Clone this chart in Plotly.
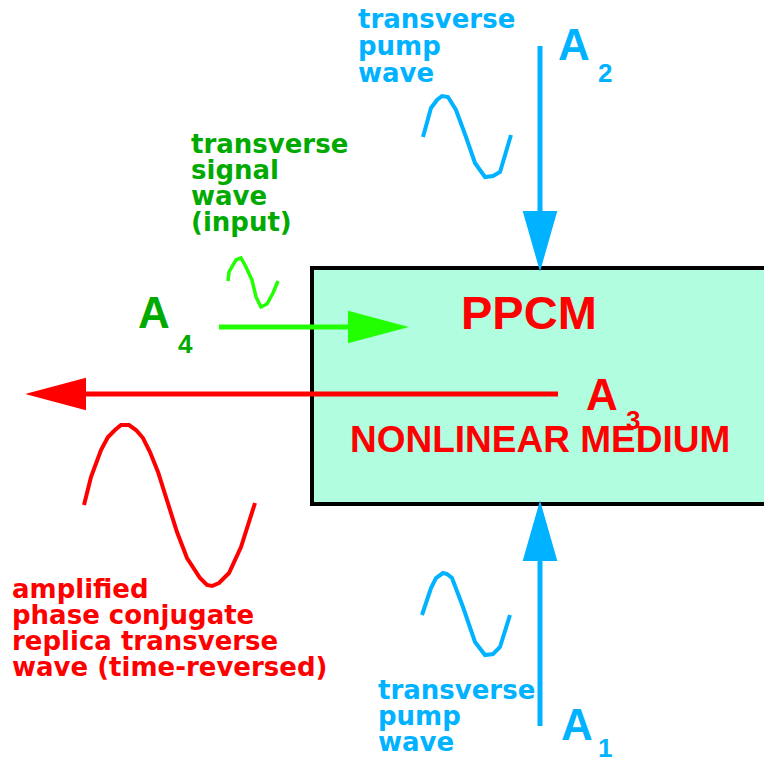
import plotly.graph_objects as go

W, H = 772, 760
PAGE_MARGIN = 8  # browser body margin offset

# ---- colours ----
BLUE = "#00b2ff"
GREEN_TXT = "#00aa00"
GREEN = "#22ff00"
RED = "#ff0000"
BOX_FILL = "#b0fde0"

# ---- wave sketches ----
pump_top_x = [423, 431, 437, 442, 448, 456, 466, 475, 485, 493, 500, 507, 511]
pump_top_y = [137, 108, 100, 96, 97, 110, 137, 163, 177, 176, 172, 147, 135]

pump_bot_x = [422, 431, 436, 443, 447, 452, 463, 475, 485, 493, 500, 505, 510]
pump_bot_y = [615, 588, 578, 573, 574, 578, 607, 642, 655, 654, 647, 632, 615]

signal_x = [228, 229, 233, 236, 241, 246, 252, 256, 261, 267, 273, 278]
signal_y = [281, 272, 265, 260, 258, 267, 280, 297, 307, 304, 293, 281]

conj_x = [84, 91, 101, 108, 115, 121, 129, 136, 143, 150, 158, 170, 177, 187, 200, 207, 212, 219, 229, 241, 249, 255]
conj_y = [505, 477, 450, 437, 430, 425, 425, 430, 438, 452, 472, 508, 532, 558, 578, 585, 586, 583, 573, 547, 523, 503]

# ---- arrows: tail, tip, head length, head half width ----
arrow_names = ["A2 pump", "A1 pump", "A4 signal", "A3 conjugate"]
arrow_tail = [(540, 46), (540, 726), (219, 327), (558, 394)]
arrow_tip = [(540, 268), (540, 504), (405, 327), (29, 394)]
arrow_head_len = [56, 56, 56, 56]
arrow_head_half = [16, 16, 15, 15]
arrow_color = [BLUE, BLUE, GREEN, RED]
arrow_width = [5, 5, 5, 5]

# ---- medium box ----
box_x = [312, 790]
box_y = [268, 504]

fig = go.Figure()

for xs, ys, col, w in [
    (pump_top_x, pump_top_y, BLUE, 4),
    (pump_bot_x, pump_bot_y, BLUE, 4),
    (signal_x, signal_y, GREEN, 3.5),
    (conj_x, conj_y, RED, 4),
]:
    fig.add_trace(go.Scatter(x=xs, y=ys, mode="lines",
                             line=dict(color=col, width=w),
                             hoverinfo="skip", showlegend=False))

shapes = [dict(type="rect", x0=box_x[0], x1=box_x[1], y0=box_y[0], y1=box_y[1],
               fillcolor=BOX_FILL, line=dict(color="black", width=4), layer="below")]

for (tx, ty), (hx, hy), L, hw, col, lw in zip(arrow_tail, arrow_tip, arrow_head_len,
                                              arrow_head_half, arrow_color, arrow_width):
    dx, dy = hx - tx, hy - ty
    n = (dx * dx + dy * dy) ** 0.5
    ux, uy = dx / n, dy / n
    bx, by = hx - ux * L, hy - uy * L
    px, py = -uy, ux
    shapes.append(dict(type="line", x0=tx, y0=ty, x1=bx, y1=by,
                       line=dict(color=col, width=lw)))
    path = (f"M {hx},{hy} L {bx + px * hw},{by + py * hw} "
            f"L {bx - px * hw},{by - py * hw} Z")
    shapes.append(dict(type="path", path=path, fillcolor=col,
                       line=dict(color=col, width=2)))

annotations = []


def txt(s, x, baseline, size, color, family="DejaVu Sans", anchor="left"):
    annotations.append(dict(
        text=s, x=x, y=baseline - 0.346 * size, xref="x", yref="y",
        xanchor=anchor, yanchor="middle", showarrow=False,
        font=dict(family=family, size=size, color=color, weight="bold")))


# lower-case labels
blue_top_lines = ["transverse", "pump", "wave"]
for s, b in zip(blue_top_lines, [28, 55, 82]):
    txt(s, 356, b, 26, BLUE)

green_lines = ["transverse", "signal", "wave", "(input)"]
for s, b in zip(green_lines, [153, 179, 205, 231]):
    txt(s, 189, b, 26, GREEN_TXT)

red_lines = ["amplified", "phase conjugate", "replica transverse", "wave (time-reversed)"]
for s, b in zip(red_lines, [598, 624, 650, 676]):
    txt(s, 10, b, 26, RED)

blue_bot_lines = ["transverse", "pump", "wave"]
for s, b in zip(blue_bot_lines, [699, 725, 751]):
    txt(s, 376, b, 26, BLUE)

# amplitude labels
LS = "Liberation Sans"
txt("A", 556, 60, 44, BLUE, LS)
txt("2", 596, 82, 26, BLUE, LS)
txt("A", 136, 328, 44, GREEN_TXT, LS)
txt("4", 176, 353, 26, GREEN_TXT, LS)
txt("A", 584, 410, 44, RED, LS)
txt("3", 624, 429, 26, RED, LS)
txt("A", 559, 740, 44, BLUE, LS)
txt("1", 596, 757, 26, BLUE, LS)

txt("PPCM", 529, 329, 47, RED, LS, anchor="center")
txt("NONLINEAR MEDIUM", 540, 452, 37, RED, LS, anchor="center")

fig.update_layout(
    width=W - PAGE_MARGIN, height=H - PAGE_MARGIN,
    margin=dict(l=0, r=0, t=0, b=0),
    paper_bgcolor="white", plot_bgcolor="white",
    xaxis=dict(range=[PAGE_MARGIN, W], visible=False, fixedrange=True),
    yaxis=dict(range=[H, PAGE_MARGIN], visible=False, fixedrange=True),
    shapes=shapes, annotations=annotations, showlegend=False,
)

fig.write_html("out.html")
